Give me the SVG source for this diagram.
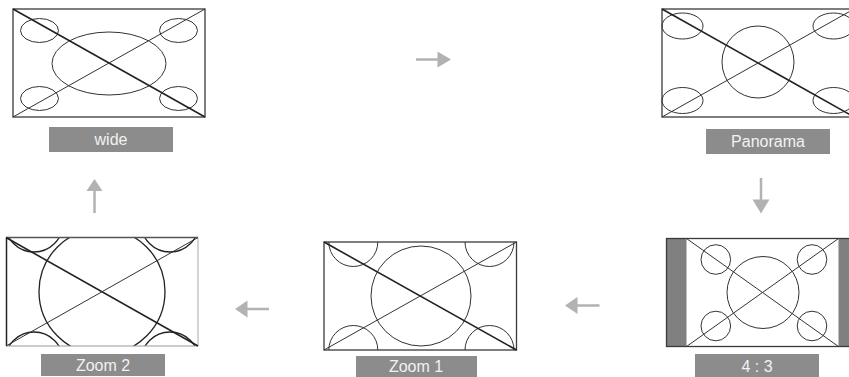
<svg xmlns="http://www.w3.org/2000/svg" width="849" height="377" viewBox="0 0 849 377">
<style>
.frame{fill:none;stroke:#3a3a3a;stroke-width:1.3}
.ln{fill:none;stroke:#333;stroke-width:1}
.thick{fill:none;stroke:#222;stroke-width:1.6}
.lbl{fill:#8c8c8c}
.txt{fill:#f2f2f2;font-family:"Liberation Sans",Arial,sans-serif;font-size:16px;text-anchor:middle}
.arr{fill:#b2b2b2}
.shaft{stroke:#b2b2b2;stroke-width:2.5}
</style>
<defs>
<clipPath id="cz2"><rect x="6" y="237.5" width="192" height="108.5"/></clipPath>
<clipPath id="cz1"><rect x="324" y="242" width="192.5" height="108"/></clipPath>
</defs>
<rect width="849" height="377" fill="#fff"/>

<g id="wide">
<rect class="frame" x="13" y="9" width="192" height="108"/>
<ellipse class="ln" cx="109" cy="63.5" rx="57" ry="31.5"/>
<ellipse class="ln" cx="39.5" cy="30.5" rx="19" ry="12"/>
<ellipse class="ln" cx="178.5" cy="30.5" rx="19" ry="12"/>
<ellipse class="ln" cx="39.5" cy="98.5" rx="19" ry="12"/>
<ellipse class="ln" cx="178.5" cy="98.5" rx="19" ry="12"/>
<line class="thick" x1="13" y1="9" x2="205" y2="117"/>
<line class="ln" x1="13" y1="117" x2="205" y2="9"/>
<rect class="lbl" x="49" y="127" width="124" height="25"/>
<text class="txt" x="111" y="144.5">wide</text>
</g>

<g id="panorama">
<rect class="frame" x="662" y="9" width="192" height="108"/>
<circle class="ln" cx="758" cy="62" r="36"/>
<ellipse class="ln" cx="682.5" cy="26" rx="20.5" ry="13"/>
<ellipse class="ln" cx="833.5" cy="26" rx="20.5" ry="13"/>
<ellipse class="ln" cx="682.5" cy="100.5" rx="20.5" ry="13"/>
<ellipse class="ln" cx="833.5" cy="100.5" rx="20.5" ry="13"/>
<line class="thick" x1="662" y1="9" x2="854" y2="117"/>
<line class="ln" x1="662" y1="117" x2="854" y2="9"/>
<rect class="lbl" x="706" y="129" width="124" height="25"/>
<text class="txt" x="768" y="146.5">Panorama</text>
</g>

<g id="ratio43">
<rect x="666.5" y="238.5" width="20" height="108" fill="#808080"/>
<rect x="838.5" y="238.5" width="20" height="108" fill="#808080"/>
<rect class="frame" x="666.5" y="238.5" width="192" height="108"/>
<circle class="ln" cx="763" cy="292.5" r="36"/>
<circle class="ln" cx="715.8" cy="259.5" r="14.8"/>
<circle class="ln" cx="812" cy="259.5" r="14.8"/>
<circle class="ln" cx="715.8" cy="326" r="14.8"/>
<circle class="ln" cx="812" cy="326" r="14.8"/>
<line class="ln" x1="686.5" y1="238.5" x2="838.5" y2="346.5"/>
<line class="ln" x1="686.5" y1="346.5" x2="838.5" y2="238.5"/>
<rect class="lbl" x="695" y="354" width="124" height="23"/>
<text class="txt" x="757" y="372">4 : 3</text>
</g>

<g id="zoom1">
<g clip-path="url(#cz1)">
<circle class="ln" cx="421" cy="296" r="50"/>
<circle class="ln" cx="353.3" cy="242" r="24.5"/>
<circle class="ln" cx="489.5" cy="242" r="24.5"/>
<circle class="ln" cx="353.3" cy="350" r="24.5"/>
<circle class="ln" cx="489.5" cy="350" r="24.5"/>
</g>
<rect class="frame" x="324" y="242" width="192.5" height="108"/>
<line class="thick" x1="324" y1="242" x2="516.5" y2="350"/>
<line class="ln" x1="324" y1="350" x2="516.5" y2="242"/>
<rect class="lbl" x="356" y="356" width="121" height="21"/>
<text class="txt" x="416" y="371.5">Zoom 1</text>
</g>

<g id="zoom2">
<g clip-path="url(#cz2)">
<circle class="thick" cx="102" cy="291.5" r="63" style="stroke-width:1.3"/>
<circle class="thick" cx="34" cy="223" r="29" style="stroke-width:1.3"/>
<circle class="thick" cx="170" cy="223" r="29" style="stroke-width:1.3"/>
<circle class="thick" cx="34" cy="361" r="29" style="stroke-width:1.3"/>
<circle class="thick" cx="170" cy="361" r="29" style="stroke-width:1.3"/>
</g>
<line x1="6" y1="237.5" x2="198" y2="237.5" stroke="#555" stroke-width="1.3"/>
<line x1="6.5" y1="237.5" x2="6.5" y2="346" stroke="#222" stroke-width="1.5"/>
<line x1="198" y1="237.5" x2="198" y2="346" stroke="#aaa" stroke-width="1"/>
<line x1="6" y1="346" x2="198" y2="346" stroke="#999" stroke-width="1.2"/>
<line class="thick" x1="6" y1="237.5" x2="198" y2="346"/>
<line class="ln" x1="6" y1="346" x2="198" y2="237.5"/>
<rect class="lbl" x="41" y="354" width="124" height="22"/>
<text class="txt" x="103" y="370.5">Zoom 2</text>
</g>

<g id="connectors">
<line class="shaft" x1="416" y1="59.5" x2="439" y2="59.5"/>
<polygon class="arr" points="437.5,51.5 451,59.5 437.5,67.5"/>
<line class="shaft" x1="761" y1="178" x2="761" y2="200"/>
<polygon class="arr" points="752.5,199.5 769.5,199.5 761,213.5"/>
<line class="shaft" x1="246" y1="309" x2="269" y2="309"/>
<polygon class="arr" points="235,309 247.5,300.5 247.5,317.5"/>
<line class="shaft" x1="576" y1="305.5" x2="599.5" y2="305.5"/>
<polygon class="arr" points="565,305.5 577.5,297 577.5,314"/>
<line class="shaft" x1="94.5" y1="190" x2="94.5" y2="213"/>
<polygon class="arr" points="94.5,179 102.5,191 86.5,191"/>
</g>
</svg>
